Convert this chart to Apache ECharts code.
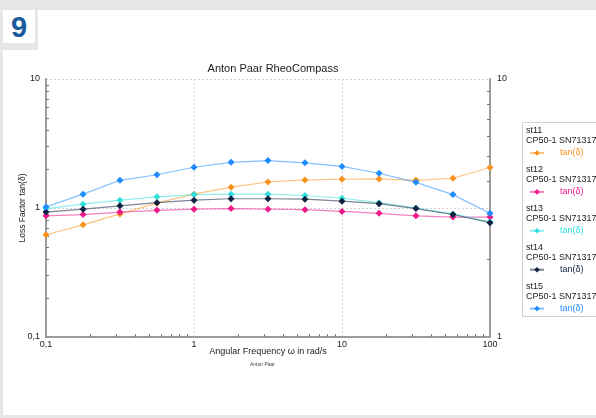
<!DOCTYPE html>
<html>
<head>
<meta charset="utf-8">
<script src="https://cdn.jsdelivr.net/npm/echarts@6/dist/echarts.min.js"></script>
<style>
  html, body { margin:0; padding:0; width:596px; height:418px; background:#e6e6e6; overflow:hidden; font-family:"Liberation Sans", Arial, sans-serif; }
  #panel { position:absolute; left:3px; top:10px; width:593px; height:405px; background:#fff; }
  #notchR { position:absolute; left:35px; top:10px; width:3px; height:40px; background:#e6e6e6; }
  #notchB { position:absolute; left:3px; top:43px; width:35px; height:7px; background:#e6e6e6; }
  #num { position:absolute; left:3px; top:10px; width:32px; height:33px; line-height:35px; text-align:center; font-size:29px; font-weight:bold; color:#1a5c9e; }
  #chart { position:absolute; left:0; top:0; width:596px; height:418px; }
</style>
</head>
<body>
<div id="panel"></div>
<div id="notchR"></div>
<div id="notchB"></div>
<div id="num">9</div>
<div id="chart"></div>
<script>
// Angular frequency (rad/s)
const freq = [0.1, 0.178, 0.316, 0.562, 1, 1.78, 3.16, 5.62, 10, 17.8, 31.6, 56.2, 100];
// Loss factor tan(delta) per sample
const st11 = [0.62, 0.74, 0.90, 1.09, 1.28, 1.45, 1.59, 1.65, 1.67, 1.68, 1.64, 1.70, 2.06];
const st12 = [0.87, 0.89, 0.93, 0.96, 0.98, 0.99, 0.98, 0.97, 0.94, 0.91, 0.87, 0.85, 0.85];
const st13 = [0.99, 1.07, 1.15, 1.22, 1.27, 1.28, 1.28, 1.25, 1.19, 1.10, 1.00, 0.90, 0.78];
const st14 = [0.93, 0.98, 1.04, 1.10, 1.15, 1.18, 1.18, 1.17, 1.13, 1.08, 0.99, 0.89, 0.77];
const st15 = [1.02, 1.28, 1.64, 1.81, 2.07, 2.26, 2.33, 2.24, 2.10, 1.86, 1.58, 1.27, 0.91];
const seriesNames = ['st11', 'st12', 'st13', 'st14', 'st15'];
const seriesData = [st11, st12, st13, st14, st15];
const deviceLabel = 'CP50-1 SN71317';
const legendLabel = 'tan(δ)';
const xMinorTicks = [0.2,0.3,0.4,0.5,0.6,0.7,0.8,0.9,2,3,4,5,6,7,8,9,20,30,40,50,60,70,80,90];
const yMinorTicks = [0.2,0.3,0.4,0.5,0.6,0.7,0.8,0.9,2,3,4,5,6,7,8,9];
const rMinorTicks = [2,3,4,5,6,7,8,9];

const colors = ['#f7931e', '#ee1a8c', '#33dede', '#0f2240', '#1e8cff'];
const FONT = '"Liberation Sans", Arial, sans-serif';
const fmt = v => String(Number(Number(v).toPrecision(3))).replace('.', ',');

const chart = echarts.init(document.getElementById('chart'), null, { renderer: 'canvas' });

const graphics = [];
seriesNames.forEach((n, i) => {
  const y0 = 126 + i * 38.9;
  graphics.push({ type:'text', left:526, top:y0, style:{ text:n, font:'9px ' + FONT, fill:'#222' } });
  graphics.push({ type:'text', left:526, top:y0 + 10.5, style:{ text:deviceLabel, font:'9px ' + FONT, fill:'#222' } });
});
graphics.push({ type:'rect', shape:{ x:522.5, y:122.5, width:80, height:194 }, style:{ fill:'none', stroke:'#cfcfcf', lineWidth:1 }, z:-1 });
graphics.push({ type:'text', left:250, top:362, style:{ text:'Anton Paar', font:'5px ' + FONT, fill:'#444' } });

const option = {
  backgroundColor: 'transparent',
  animation: false,
  textStyle: { fontFamily: FONT },
  title: {
    text: 'Anton Paar RheoCompass',
    left: 268, top: 58, textAlign: 'center',
    textStyle: { fontSize: 11, fontWeight: 'normal', color: '#222', fontFamily: FONT }
  },
  grid: { left: 46, right: 106, top: 79, bottom: 81, containLabel: false },
  legend: {
    orient: 'vertical', left: 524, top: 142,
    itemWidth: 14, itemHeight: 7, itemGap: 26.9,
    data: seriesNames.map((n, i) => ({ name: n, textStyle: { color: colors[i] } })),
    formatter: () => legendLabel,
    textStyle: { fontSize: 9, fontFamily: FONT, padding: [0, 0, 0, 11], lineHeight: 12 }
  },
  xAxis: [
    {
      type: 'log', logBase: 10, min: 0.1, max: 100,
      name: 'Angular Frequency ω in rad/s', nameLocation: 'middle', nameGap: 10,
      nameMoveOverlap: false,
      nameTextStyle: { fontSize: 9, color: '#222', fontFamily: FONT },
      axisLine: { show: true, lineStyle: { color: '#9a9a9a', width: 2 } },
      axisTick: { show: false },
      axisLabel: { fontSize: 9, color: '#222', margin: 3, formatter: fmt },
      splitLine: { show: true, lineStyle: { color: '#d4d4d4', type: [2, 2], width: 1 } },
      minorTick: { show: false }
    },
    {
      type: 'log', logBase: 10, min: 0.1, max: 100, position: 'bottom',
      axisLine: { show: false },
      axisLabel: { show: false },
      splitLine: { show: false },
      axisTick: { show: true, inside: true, length: 3, customValues: xMinorTicks, lineStyle: { color: '#777', width: 1 } }
    }
  ],
  yAxis: [
    {
      type: 'log', logBase: 10, min: 0.1, max: 10, position: 'left',
      name: 'Loss Factor tan(δ)', nameLocation: 'middle', nameGap: 19, nameRotate: 90,
      nameMoveOverlap: false,
      nameTextStyle: { fontSize: 8.5, color: '#222', fontFamily: FONT },
      axisLine: { show: true, lineStyle: { color: '#9a9a9a', width: 2 } },
      axisTick: { show: false },
      axisLabel: { fontSize: 9, color: '#222', margin: 6, formatter: fmt },
      splitLine: { show: true, lineStyle: { color: '#d4d4d4', type: [2, 2], width: 1 } }
    },
    {
      type: 'log', logBase: 10, min: 1, max: 10, position: 'right',
      axisLine: { show: true, lineStyle: { color: '#9a9a9a', width: 2 } },
      axisTick: { show: true, inside: true, length: 3, customValues: rMinorTicks, lineStyle: { color: '#777', width: 1 } },
      axisLabel: { fontSize: 9, color: '#222', margin: 7, formatter: fmt },
      splitLine: { show: false }
    },
    {
      type: 'log', logBase: 10, min: 0.1, max: 10, position: 'left',
      axisLine: { show: false },
      axisLabel: { show: false },
      splitLine: { show: false },
      axisTick: { show: true, inside: true, length: 3, customValues: yMinorTicks, lineStyle: { color: '#777', width: 1 } }
    }
  ],
  graphic: graphics,
  series: seriesNames.map((n, i) => ({
    name: n,
    type: 'line',
    xAxisIndex: 0,
    yAxisIndex: 0,
    data: freq.map((f, j) => [f, seriesData[i][j]]),
    symbol: 'diamond',
    symbolSize: 7,
    showSymbol: true,
    itemStyle: { color: colors[i] },
    lineStyle: { color: colors[i], width: 1.2, opacity: 0.55 },
    z: 3 + i
  }))
};
chart.setOption(option);
</script>
</body>
</html>
